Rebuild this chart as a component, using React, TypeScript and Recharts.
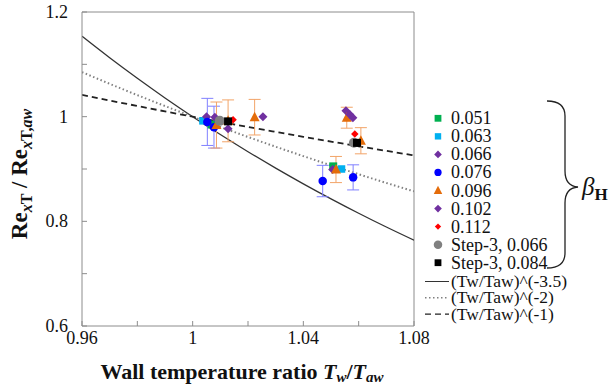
import React from 'react';
import { ComposedChart, XAxis, YAxis, Line, Scatter, ErrorBar, ReferenceLine } from 'recharts';

const SERIF = "'Liberation Serif', 'Times New Roman', Times, serif";
const AXIS = '#8c8c8c';

// axis ticks
const xTicks = [0.96, 0.98, 1.0, 1.02, 1.04, 1.06, 1.08];
const yTicks = [0.6, 0.7, 0.8, 0.9, 1.0, 1.1, 1.2];

// reference curves (Tw/Taw)^n, read along the x axis
const curveX = [0.96, 0.97, 0.98, 0.99, 1.0, 1.01, 1.02, 1.03, 1.04, 1.05, 1.06, 1.07, 1.08];
const powM35 = [1.1536, 1.1125, 1.0733, 1.0358, 1.0, 0.9658, 0.933, 0.9017, 0.8717, 0.843, 0.8155, 0.7891, 0.7639];
const powM2 = [1.0851, 1.0628, 1.0412, 1.0203, 1.0, 0.9803, 0.9612, 0.9426, 0.9246, 0.907, 0.89, 0.8734, 0.8573];
const powM1 = [1.0417, 1.0309, 1.0204, 1.0101, 1.0, 0.9901, 0.9804, 0.9709, 0.9615, 0.9524, 0.9434, 0.9346, 0.9259];

const curveData = curveX.map((x, i) => ({ x, a: powM35[i], b: powM2[i], c: powM1[i] }));

// measured points
const b051 = [{ x: 1.0068, y: 0.985 }, { x: 1.0508, y: 0.905 }];
const b063 = [{ x: 1.0037, y: 0.992 }, { x: 1.0538, y: 0.9 }];
const b066 = [{ x: 1.005, y: 1.0 }, { x: 1.0506, y: 0.899 }, { x: 1.0554, y: 1.0115 }];
const b076 = [
  { x: 1.0053, y: 0.99, e: 0.045 },
  { x: 1.0077, y: 0.98, e: 0.04 },
  { x: 1.047, y: 0.877, e: 0.03 },
  { x: 1.058, y: 0.884, e: 0.024 },
];
const b096 = [
  { x: 1.0086, y: 0.984, e: 0.044 },
  { x: 1.0128, y: 0.992, e: 0.04 },
  { x: 1.0224, y: 0.999, e: 0.034 },
  { x: 1.0518, y: 0.899, e: 0.025 },
  { x: 1.0557, y: 0.998, e: 0.02 },
  { x: 1.0608, y: 0.954, e: 0.025 },
];
const b102 = [
  { x: 1.008, y: 0.999 },
  { x: 1.0128, y: 0.977 },
  { x: 1.0254, y: 1.0 },
  { x: 1.0568, y: 1.004 },
  { x: 1.0579, y: 0.998 },
];
const b112 = [{ x: 1.0146, y: 0.994 }, { x: 1.0586, y: 0.967 }];
const step066 = [{ x: 1.0098, y: 0.992 }, { x: 1.0583, y: 0.95 }];
const step084 = [{ x: 1.0128, y: 0.991 }, { x: 1.0594, y: 0.95 }];

type Kind = 'square' | 'circle' | 'diamond' | 'triangle';

function drawMarker(kind: Kind, cx: number, cy: number, s: number, color: string) {
  const h = s / 2;
  if (kind === 'square') return <rect x={cx - h} y={cy - h} width={s} height={s} fill={color} />;
  if (kind === 'circle') return <circle cx={cx} cy={cy} r={h} fill={color} />;
  if (kind === 'diamond')
    return <polygon points={`${cx},${cy - h} ${cx + h},${cy} ${cx},${cy + h} ${cx - h},${cy}`} fill={color} />;
  return (
    <polygon
      points={`${cx},${cy - h * 1.1} ${cx + h},${cy + h * 0.8} ${cx - h},${cy + h * 0.8}`}
      fill={color}
    />
  );
}

const shape = (kind: Kind, color: string, s: number) => (p: any) =>
  p.cx == null ? <g /> : drawMarker(kind, p.cx, p.cy, s, color);

const series = [
  { name: '0.051', data: b051, kind: 'square' as Kind, color: '#00b050', size: 8 },
  { name: '0.063', data: b063, kind: 'square' as Kind, color: '#00b0f0', size: 7.5 },
  { name: '0.066', data: b066, kind: 'diamond' as Kind, color: '#7030a0', size: 9 },
  { name: '0.076', data: b076, kind: 'circle' as Kind, color: '#0000ff', size: 8.5, err: '#8080ff' },
  { name: '0.096', data: b096, kind: 'triangle' as Kind, color: '#e46c0a', size: 10, err: '#f2a468' },
  { name: '0.102', data: b102, kind: 'diamond' as Kind, color: '#7030a0', size: 9 },
  { name: '0.112', data: b112, kind: 'diamond' as Kind, color: '#ff0000', size: 7.5 },
  { name: 'Step-3, 0.066', data: step066, kind: 'circle' as Kind, color: '#808080', size: 10 },
  { name: 'Step-3, 0.084', data: step084, kind: 'square' as Kind, color: '#000000', size: 8 },
];

const curves = [
  { key: 'a', name: '(Tw/Taw)^(-3.5)', color: '#333333', width: 1.3, dash: undefined },
  { key: 'b', name: '(Tw/Taw)^(-2)', color: '#808080', width: 2, dash: '1.5 2.5' },
  { key: 'c', name: '(Tw/Taw)^(-1)', color: '#222222', width: 1.8, dash: '6 4' },
];

const XTick = (p: any) => {
  const { x, y, payload, index } = p;
  return (
    <g>
      <line x1={x} y1={y} x2={x} y2={y - 5} stroke={AXIS} />
      {index % 2 === 0 && (
        <text x={x} y={y + 18} textAnchor="middle" fontSize={18} fontFamily={SERIF} fill="#111">
          {String(parseFloat(payload.value.toFixed(2)))}
        </text>
      )}
    </g>
  );
};

const YTick = (p: any) => {
  const { x, y, payload, index } = p;
  return (
    <g>
      <line x1={x} y1={y} x2={x + 5} y2={y} stroke={AXIS} />
      {index % 2 === 0 && (
        <text x={x - 14} y={y + 6} textAnchor="end" fontSize={18} fontFamily={SERIF} fill="#111">
          {String(parseFloat(payload.value.toFixed(1)))}
        </text>
      )}
    </g>
  );
};

const Overlay = () => (
  <svg width={609} height={386} style={{ position: 'absolute', left: 0, top: 0, pointerEvents: 'none' }}>
    {series.map((s, i) => {
      const cy = 118.3 + i * 18.05;
      return (
        <g key={s.name}>
          {drawMarker(s.kind, 438, cy, s.size * 0.85, s.color)}
          <text x={451} y={cy + 6} fontSize={18} fontFamily={SERIF} fill="#111">
            {s.name}
          </text>
        </g>
      );
    })}
    {curves.map((c, j) => {
      const cy = 281.5 + j * 16.3;
      return (
        <g key={c.key}>
          <line x1={425} y1={cy} x2={449} y2={cy} stroke={c.color} strokeWidth={c.width * 0.8} strokeDasharray={c.dash} />
          <text x={451} y={cy + 5.5} fontSize={17.5} fontFamily={SERIF} fill="#111">
            {c.name}
          </text>
        </g>
      );
    })}
    <path
      d="M 547 101 Q 565 101 565 116 L 565 171 Q 565 186 578 187 Q 565 188 565 203 L 565 253 Q 565 268 547 268"
      fill="none"
      stroke="#222"
      strokeWidth={1.3}
    />
    <text x={582} y={195} fontSize={25} fontFamily={SERIF} fill="#111">
      <tspan fontStyle="italic">β</tspan>
      <tspan fontSize={17} fontWeight="bold" dy={5}>H</tspan>
    </text>
    <text
      transform="translate(27,174) rotate(-90)"
      textAnchor="middle"
      fontSize={23}
      fontWeight="bold"
      fontFamily={SERIF}
      fill="#111"
    >
      <tspan>Re</tspan>
      <tspan fontSize={16} dy={5}>
        <tspan fontStyle="italic">x</tspan>T
      </tspan>
      <tspan dy={-5}> / Re</tspan>
      <tspan fontSize={16} dy={5}>
        <tspan fontStyle="italic">x</tspan>T,<tspan fontStyle="italic">aw</tspan>
      </tspan>
    </text>
    <text x={242} y={379} textAnchor="middle" fontSize={22} fontWeight="bold" fontFamily={SERIF} fill="#111">
      Wall temperature ratio <tspan fontStyle="italic">T</tspan>
      <tspan fontStyle="italic" fontSize={15} dy={3}>w</tspan>
      <tspan dy={-3}>/</tspan>
      <tspan fontStyle="italic">T</tspan>
      <tspan fontStyle="italic" fontSize={15} dy={3}>aw</tspan>
    </text>
  </svg>
);

export default function App() {
  return (
    <div style={{ position: 'absolute', left: 0, top: 0, width: 609, height: 386, background: '#fff' }}>
      <ComposedChart width={609} height={386} margin={{ top: 12, right: 195, left: 22, bottom: 30 }}>
        <XAxis
          dataKey="x"
          type="number"
          domain={[0.96, 1.08]}
          ticks={xTicks}
          interval={0}
          allowDataOverflow
          height={30}
          tickSize={0}
          tickMargin={0}
          tickLine={false}
          axisLine={{ stroke: AXIS }}
          tick={<XTick />}
        />
        <YAxis
          type="number"
          domain={[0.6, 1.2]}
          ticks={yTicks}
          interval={0}
          allowDataOverflow
          width={60}
          tickSize={0}
          tickMargin={0}
          tickLine={false}
          axisLine={{ stroke: AXIS }}
          tick={<YTick />}
        />
        <ReferenceLine y={1.2} stroke={AXIS} />
        <ReferenceLine x={1.08} stroke={AXIS} />
        {curves.map((c) => (
          <Line
            key={c.key}
            data={curveData}
            dataKey={c.key}
            type="monotone"
            stroke={c.color}
            strokeWidth={c.width}
            strokeDasharray={c.dash}
            dot={false}
            activeDot={false}
            isAnimationActive={false}
          />
        ))}
        {series.map((s) => (
          <Scatter
            key={s.name}
            name={s.name}
            data={s.data}
            dataKey="y"
            fill={s.color}
            shape={shape(s.kind, s.color, s.size)}
            isAnimationActive={false}
          >
            {s.err && <ErrorBar dataKey="e" direction="y" width={6} stroke={s.err} strokeWidth={1} />}
          </Scatter>
        ))}
      </ComposedChart>
      <Overlay />
    </div>
  );
}
